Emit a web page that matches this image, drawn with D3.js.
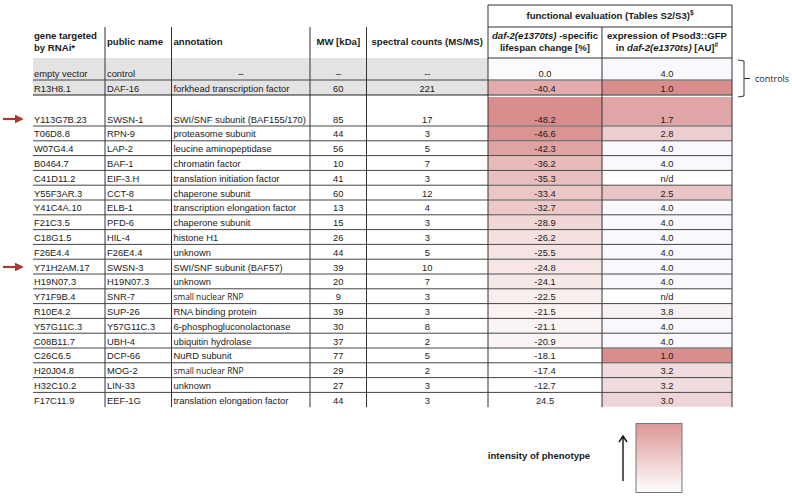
<!DOCTYPE html>
<html>
<head>
<meta charset="utf-8">
<script src="https://cdn.jsdelivr.net/npm/d3@7"></script>
<style>
  body { margin: 0; background: #fff; }
  svg text { font-family: "Liberation Sans", Arial, sans-serif; fill: #1a1a1a; }
</style>
</head>
<body>
<div class="table"></div>
<script>
// table data
const genes = ["empty vector","R13H8.1","Y113G7B.23","T06D8.8","W07G4.4","B0464.7","C41D11.2","Y55F3AR.3","Y41C4A.10","F21C3.5","C18G1.5","F26E4.4","Y71H2AM.17","H19N07.3","Y71F9B.4","R10E4.2","Y57G11C.3","C08B11.7","C26C6.5","H20J04.8","H32C10.2","F17C11.9"];
const publicNames = ["control","DAF-16","SWSN-1","RPN-9","LAP-2","BAF-1","EIF-3.H","CCT-8","ELB-1","PFD-6","HIL-4","F26E4.4","SWSN-3","H19N07.3","SNR-7","SUP-26","Y57G11C.3","UBH-4","DCP-66","MOG-2","LIN-33","EEF-1G"];
const annotations = ["–","forkhead transcription factor","SWI/SNF subunit (BAF155/170)","proteasome subunit","leucine aminopeptidase","chromatin factor","translation initiation factor","chaperone subunit","transcription elongation factor","chaperone subunit","histone H1","unknown","SWI/SNF subunit (BAF57)","unknown","small nuclear RNP","RNA binding protein","6-phosphogluconolactonase","ubiquitin hydrolase","NuRD subunit","small nuclear RNP","unknown","translation elongation factor"];
const mw = ["–",60,85,44,56,10,41,60,13,15,26,44,39,20,9,39,30,37,77,29,27,44];
const spectral = ["--",221,17,3,5,7,3,12,4,3,3,5,10,7,3,3,8,2,5,2,3,3];
const lifespan = [0.0,-40.4,-48.2,-46.6,-42.3,-36.2,-35.3,-33.4,-32.7,-28.9,-26.2,-25.5,-24.8,-24.1,-22.5,-21.5,-21.1,-20.9,-18.1,-17.4,-12.7,24.5];
const expression = [4.0,1.0,1.7,2.8,4.0,4.0,null,2.5,4.0,4.0,4.0,4.0,4.0,4.0,null,3.8,4.0,4.0,1.0,3.2,3.2,3.0];
const markedGenes = ["Y113G7B.23","Y71H2AM.17"];

const W = 792, H = 499;
const svg = d3.select(".table").append("svg")
    .attr("width", W).attr("height", H);

// column edges
const colX = [33, 105, 171.5, 310, 366.5, 488, 602, 732];
const fs = 9.6;      // header
const fsBody = 9.35; // rows

// row layout
const rowH = genes.map((g, i) => i === 0 ? 22 : i === 1 ? 15 : i === 2 ? 31 : 14.8);
const rowTop = [];
let acc = 58;
rowH.forEach(h => { rowTop.push(acc); acc += h; });
const tableBottom = acc;
const rowBot = i => rowTop[i] + rowH[i];

// colour scales
const lifeColor = d3.scaleLinear().domain([-48.2, -18.1]).range(["#d98d8d", "#ffffff"]).clamp(true);
const exprColor = d3.scaleLinear().domain([1, 4]).range(["#d98d8d", "#f9f8fc"]).clamp(true);

// grey band for controls
svg.append("rect")
    .attr("x", colX[0]).attr("y", rowTop[0])
    .attr("width", colX[5] - colX[0]).attr("height", rowBot(1) - rowTop[0])
    .attr("fill", "#e3e3e3");

// coloured cells
const rows = svg.append("g");
genes.forEach((g, i) => {
    const top = rowTop[i] + (i === 2 ? 2 : 0.5);
    const h = rowBot(i) - top - 0.5;
    rows.append("rect")
        .attr("x", colX[5]).attr("y", top)
        .attr("width", colX[6] - colX[5]).attr("height", h)
        .attr("fill", i === 0 ? "#fbfbfd" : lifeColor(lifespan[i]));
    rows.append("rect")
        .attr("x", colX[6]).attr("y", top)
        .attr("width", colX[7] - colX[6]).attr("height", h)
        .attr("fill", expression[i] == null ? "#ffffff" : exprColor(expression[i]));
});

// grid lines
const grid = svg.append("g").attr("stroke", "#333").attr("stroke-width", 1);
[1, 2, 3, 4, 6].forEach(c => {
    grid.append("line")
        .attr("x1", colX[c]).attr("x2", colX[c])
        .attr("y1", 27).attr("y2", tableBottom);
});
[5, 7].forEach(c => {
    grid.append("line")
        .attr("x1", colX[c]).attr("x2", colX[c])
        .attr("y1", 5).attr("y2", tableBottom);
});
grid.append("line").attr("x1", colX[5]).attr("x2", colX[7]).attr("y1", 5).attr("y2", 5);
grid.append("line").attr("x1", colX[5]).attr("x2", colX[7]).attr("y1", 27).attr("y2", 27);
grid.append("line").attr("x1", colX[5]).attr("x2", colX[7]).attr("y1", 58).attr("y2", 58);
genes.forEach((g, i) => {
    if (i === genes.length - 1) return;
    grid.append("line")
        .attr("x1", colX[0]).attr("x2", colX[7])
        .attr("y1", rowBot(i)).attr("y2", rowBot(i))
        .attr("stroke", i === 1 ? "#222" : "#444");
});

// header
const head = svg.append("g").attr("font-weight", "bold").attr("font-size", fs);
head.append("text").attr("x", 34).attr("y", 39).text("gene targeted");
head.append("text").attr("x", 34).attr("y", 51).text("by RNAi*");
head.append("text").attr("x", colX[1] + 2).attr("y", 45).text("public name");
head.append("text").attr("x", colX[2] + 2).attr("y", 45).text("annotation");
head.append("text").attr("x", (colX[3] + colX[4]) / 2).attr("y", 45)
    .attr("text-anchor", "middle").text("MW [kDa]");
head.append("text").attr("x", (colX[4] + colX[5]) / 2).attr("y", 45)
    .attr("text-anchor", "middle").text("spectral counts (MS/MS)");

const fe = head.append("text").attr("x", (colX[5] + colX[7]) / 2).attr("y", 19)
    .attr("text-anchor", "middle");
fe.append("tspan").text("functional evaluation (Tables S2/S3)");
fe.append("tspan").attr("font-size", 6.5).attr("dy", -4).text("$");

const l1 = head.append("text").attr("x", (colX[5] + colX[6]) / 2).attr("y", 39)
    .attr("text-anchor", "middle");
l1.append("tspan").attr("font-style", "italic").text("daf-2(e1370ts)");
l1.append("tspan").text(" -specific");
head.append("text").attr("x", (colX[5] + colX[6]) / 2).attr("y", 51)
    .attr("text-anchor", "middle").text("lifespan change [%]");

head.append("text").attr("x", (colX[6] + colX[7]) / 2).attr("y", 39)
    .attr("text-anchor", "middle").text("expression of Psod3::GFP");
const e2 = head.append("text").attr("x", (colX[6] + colX[7]) / 2).attr("y", 51)
    .attr("text-anchor", "middle");
e2.append("tspan").text("in ");
e2.append("tspan").attr("font-style", "italic").text("daf-2(e1370ts)");
e2.append("tspan").text("  [AU]");
e2.append("tspan").attr("font-size", 6.5).attr("dy", -4).text("#");

// body text
const body = svg.append("g").attr("font-size", fsBody);
genes.forEach((g, i) => {
    const y = rowBot(i) - 3.5;
    body.append("text").attr("x", 34).attr("y", y).text(g);
    body.append("text").attr("x", colX[1] + 2).attr("y", y).text(publicNames[i]);
    const ann = body.append("text").attr("y", y).text(annotations[i]);
    if (annotations[i] === "–") {
        ann.attr("x", (colX[2] + colX[3]) / 2).attr("text-anchor", "middle");
    } else {
        ann.attr("x", colX[2] + 2);
    }
    if (annotations[i] === "small nuclear RNP") {
        ann.style("font-family", "'Open Sans', sans-serif").attr("font-size", 8.3);
    }
    body.append("text").attr("x", (colX[3] + colX[4]) / 2).attr("y", y)
        .attr("text-anchor", "middle").text(mw[i]);
    body.append("text").attr("x", (colX[4] + colX[5]) / 2).attr("y", y)
        .attr("text-anchor", "middle").text(spectral[i]);
    body.append("text").attr("x", (colX[5] + colX[6]) / 2).attr("y", y)
        .attr("text-anchor", "middle").text(lifespan[i].toFixed(1));
    body.append("text").attr("x", (colX[6] + colX[7]) / 2).attr("y", y)
        .attr("text-anchor", "middle")
        .text(expression[i] == null ? "n/d" : expression[i].toFixed(1));
});

// red arrows for SWI/SNF genes
const defs = svg.append("defs");
defs.append("marker").attr("id", "redhead")
    .attr("viewBox", "0 0 10 10").attr("refX", 8).attr("refY", 5)
    .attr("markerWidth", 4).attr("markerHeight", 4).attr("orient", "auto")
    .append("path").attr("d", "M0,0 L10,5 L0,10 z").attr("fill", "#a83838");
markedGenes.forEach(g => {
    const i = genes.indexOf(g);
    const y = rowBot(i) - 7;
    svg.append("line")
        .attr("x1", 3).attr("x2", 22).attr("y1", y).attr("y2", y)
        .attr("stroke", "#a83838").attr("stroke-width", 2.2)
        .attr("marker-end", "url(#redhead)");
});

// controls bracket
const bTop = rowTop[0] + 2, bBot = rowBot(1) + 2, bx = 744;
svg.append("path")
    .attr("d", `M${bx - 6},${bTop} L${bx},${bTop + 1} L${bx},${bBot - 1} L${bx - 6},${bBot}
                M${bx},${(bTop + bBot) / 2} L${bx + 6},${(bTop + bBot) / 2}`)
    .attr("fill", "none").attr("stroke", "#333").attr("stroke-width", 1);
svg.append("text").attr("x", bx + 11).attr("y", (bTop + bBot) / 2 + 3)
    .style("font-family", "'Open Sans', sans-serif").attr("font-size", 9).text("controls");

// legend
const grad = defs.append("linearGradient").attr("id", "phen")
    .attr("x1", 0).attr("x2", 0).attr("y1", 0).attr("y2", 1);
grad.append("stop").attr("offset", "0%").attr("stop-color", "#dd9797");
grad.append("stop").attr("offset", "100%").attr("stop-color", "#ffffff");
svg.append("rect").attr("x", 636).attr("y", 423.5).attr("width", 46).attr("height", 69)
    .attr("fill", "url(#phen)").attr("stroke", "#777").attr("stroke-width", 1);
svg.append("path")
    .attr("d", "M623,481 L623,437 M619,442 L623,436 L627,442")
    .attr("fill", "none").attr("stroke", "#111").attr("stroke-width", 1.4);
svg.append("text").attr("x", 539).attr("y", 459).attr("text-anchor", "middle")
    .attr("font-weight", "bold").attr("font-size", fs).text("intensity of phenotype");
</script>
</body>
</html>
